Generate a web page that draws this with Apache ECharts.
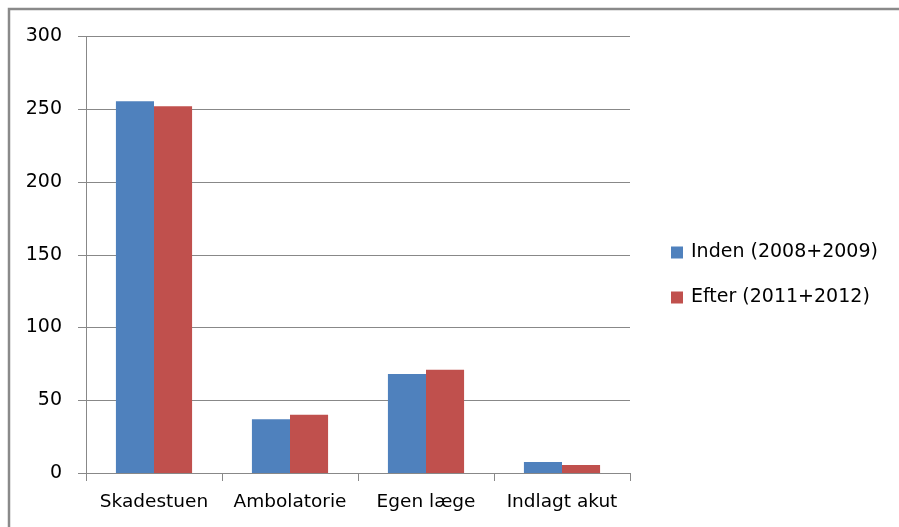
<!DOCTYPE html>
<html>
<head>
<meta charset="utf-8">
<script src="https://cdn.jsdelivr.net/npm/echarts@6/dist/echarts.min.js"></script>
<style>
html,body{margin:0;padding:0;background:#fff;}
#chart{width:899px;height:527px;}
</style>
</head>
<body>
<div id="chart"></div>
<script>
const categories = ['Skadestuen', 'Ambolatorie', 'Egen læge', 'Indlagt akut'];
const seriesNames = ['Inden (2008+2009)', 'Efter (2011+2012)'];
const indenValues = [255.5, 37, 68, 7.5];
const efterValues = [252, 40, 71, 5.5];
const yTicks = { min: 0, max: 300, interval: 50 };

const chart = echarts.init(document.getElementById('chart'), null, { renderer: 'canvas' });
const font = 'DejaVu Sans';
chart.setOption({
  animation: false,
  backgroundColor: '#fff',
  graphic: [{
    type: 'rect',
    shape: { x: 9, y: 9, width: 1000, height: 1000 },
    style: { fill: 'none', stroke: '#8a8a8a', lineWidth: 2.5 },
    silent: true
  }],
  grid: { left: 86, right: 269, top: 36.5, bottom: 54, containLabel: false },
  legend: {
    orient: 'vertical',
    left: 671,
    top: 243,
    padding: 0,
    itemWidth: 12,
    itemHeight: 12,
    itemGap: 26,
    icon: 'rect',
    textStyle: { fontFamily: font, fontSize: 19, color: '#000', padding: [0, 0, 0, 3] },
    data: seriesNames
  },
  xAxis: {
    type: 'category',
    data: categories,
    boundaryGap: true,
    axisLine: { show: true, lineStyle: { color: '#888', width: 1 } },
    axisTick: { show: true, interval: 0, alignWithLabel: false, length: 8, lineStyle: { color: '#888' } },
    axisLabel: { interval: 0, fontFamily: font, fontSize: 18.5, color: '#000', margin: 20 }
  },
  yAxis: {
    type: 'value',
    min: yTicks.min,
    max: yTicks.max,
    interval: yTicks.interval,
    axisLine: { show: true, lineStyle: { color: '#888', width: 1 } },
    axisTick: { show: true, length: 8, lineStyle: { color: '#888' } },
    splitLine: { show: true, lineStyle: { color: '#888', width: 1 } },
    axisLabel: { fontFamily: font, fontSize: 19, color: '#000', margin: 24 }
  },
  series: [
    { name: seriesNames[0], type: 'bar', data: indenValues, itemStyle: { color: '#4F81BD' }, barGap: '0%', barCategoryGap: '44%' },
    { name: seriesNames[1], type: 'bar', data: efterValues, itemStyle: { color: '#C0504D' }, barGap: '0%', barCategoryGap: '44%' }
  ]
});
</script>
</body>
</html>
